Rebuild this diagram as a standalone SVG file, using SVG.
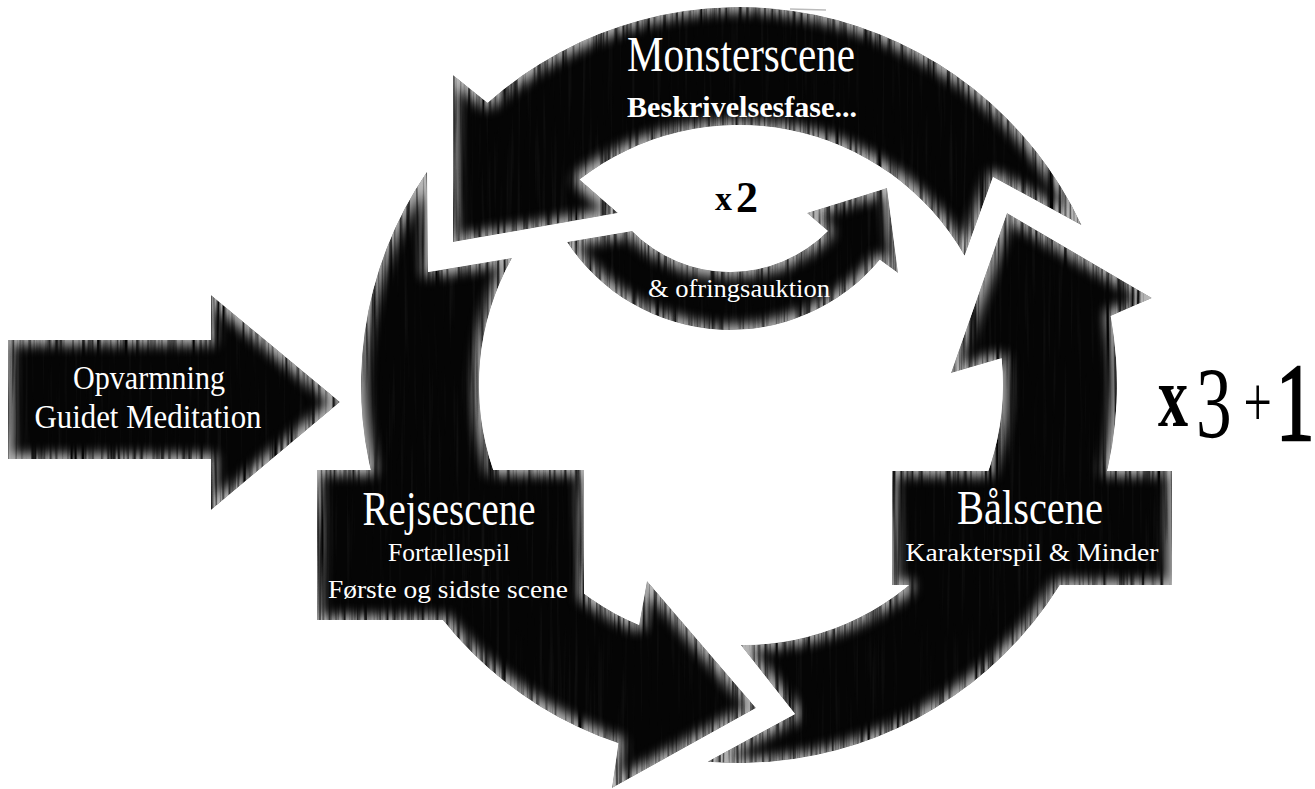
<svg xmlns="http://www.w3.org/2000/svg" width="1315" height="789" viewBox="0 0 1315 789">
  <defs>
    <filter id="grunge" x="-3%" y="-3%" width="106%" height="106%" color-interpolation-filters="sRGB">
      <feTurbulence type="fractalNoise" baseFrequency="0.28 0.008" numOctaves="2" seed="7" result="noise"/>
      <feColorMatrix in="noise" type="matrix" values="0 0 0 0 0.72  0 0 0 0 0.72  0 0 0 0 0.72  2.6 0 0 0 -0.5" result="streaks"/>
      <feMorphology in="SourceAlpha" operator="erode" radius="5" result="er"/>
      <feGaussianBlur in="er" stdDeviation="6" result="soft"/>
      <feComposite in="SourceAlpha" in2="soft" operator="out" result="edge"/>
      <feComposite in="streaks" in2="edge" operator="in" result="es"/>
      <feColorMatrix in="noise" type="matrix" values="0 0 0 0 0.22  0 0 0 0 0.22  0 0 0 0 0.22  0.7 0 0 0 -0.38" result="faint"/>
      <feComposite in="faint" in2="SourceAlpha" operator="in" result="fi"/>
      <feMerge result="m">
        <feMergeNode in="SourceGraphic"/>
        <feMergeNode in="fi"/>
        <feMergeNode in="es"/>
      </feMerge>
      <feComposite in="m" in2="SourceAlpha" operator="in"/>
    </filter>
  </defs>
  <style>
    .shape { fill:#050505; }
    .lbl { fill:#ffffff; font-family:"Liberation Serif","DejaVu Serif",serif; text-anchor:middle; }
    .darkstart { fill:#000000; font-family:"Liberation Serif","DejaVu Serif",serif; text-anchor:start; }
  </style>
  <rect width="1315" height="789" fill="#ffffff"/>

  <g id="opvarmning">
    <g filter="url(#grunge)">
      <polygon class="shape" points="8,340 211,340 211,295 340,402 211,510 211,459 8,459"/>
    </g>
    <text class="lbl" x="149" y="389" font-size="33" textLength="152" lengthAdjust="spacingAndGlyphs">Opvarmning</text>
    <text class="lbl" x="148" y="428" font-size="33" textLength="227" lengthAdjust="spacingAndGlyphs">Guidet Meditation</text>
  </g>

  <g id="monsterscene">
    <g filter="url(#grunge)">
      <path class="shape" d="M1081.6,225.3 A378,378 0 0 0 487.6,102.8 L453,75 L453,242 L618,213 L579.6,179.6 A260,260 0 0 1 964.6,255.8 L993,177 Z"/>
    </g>
    <line x1="790" y1="9" x2="826" y2="10" stroke="#bbbbbb" stroke-width="1.5"/>
    <text class="lbl" x="741" y="71" font-size="50" textLength="228" lengthAdjust="spacingAndGlyphs">Monsterscene</text>
    <text class="lbl" x="742" y="117" font-size="29" font-weight="bold" textLength="230" lengthAdjust="spacingAndGlyphs">Beskrivelsesfase...</text>
  </g>

  <g id="rejsescene">
    <g filter="url(#grunge)">
      <path class="shape" d="M427.1,171.4 A378,378 0 0 0 618.4,743.3 L612,788 L756,708 L647,581 L639.1,625 A260,260 0 0 1 512,258.1 L428,272 Z"/>
      <rect class="shape" x="317" y="470" width="267" height="150"/>
    </g>
    <text class="lbl" x="449" y="525" font-size="48" textLength="173" lengthAdjust="spacingAndGlyphs">Rejsescene</text>
    <text class="lbl" x="449" y="561" font-size="26" textLength="122" lengthAdjust="spacingAndGlyphs">Fortællespil</text>
    <text class="lbl" x="448" y="598" font-size="26" textLength="240" lengthAdjust="spacingAndGlyphs">Første og sidste scene</text>
  </g>

  <g id="baalscene">
    <g filter="url(#grunge)">
      <path class="shape" d="M707.4,761.7 A378,378 0 0 0 1110.7,316.1 L1152,298 L1007,213 L951,373 L1001.6,358.3 A260,260 0 0 1 740.8,645 L795,714 Z"/>
      <rect class="shape" x="892" y="471" width="280" height="114"/>
    </g>
    <text class="lbl" x="1030" y="524" font-size="48" textLength="146" lengthAdjust="spacingAndGlyphs">Bålscene</text>
    <text class="lbl" x="1032" y="561" font-size="26" textLength="253" lengthAdjust="spacingAndGlyphs">Karakterspil &amp; Minder</text>
  </g>

  <g id="connectors">
    <g id="loop-x2">
      <g filter="url(#grunge)">
        <path class="shape" d="M567,242 A195,195 0 0 0 879.8,259.8 L898,273 L887,188 L807,213 L827.9,230.9 A137,137 0 0 1 632.1,230.9 Z"/>
      </g>
      <text class="lbl" x="739" y="297" font-size="25" textLength="182" lengthAdjust="spacingAndGlyphs">&amp; ofringsauktion</text>
      <text class="darkstart" font-weight="bold"><tspan x="715" y="210" font-size="34">x</tspan><tspan x="736" y="212" font-size="44">2</tspan></text>
    </g>
  </g>

  <g id="repeat">
    <text class="darkstart" transform="translate(1158 0) scale(0.7 1)"><tspan x="0" y="426" font-size="86" font-weight="bold">x</tspan><tspan x="54.3" y="438" font-size="102">3</tspan><tspan x="122" y="426" font-size="72">+</tspan><tspan x="168.6" y="440" font-size="110" stroke="#000000" stroke-width="2.5">1</tspan></text>
  </g>
</svg>
